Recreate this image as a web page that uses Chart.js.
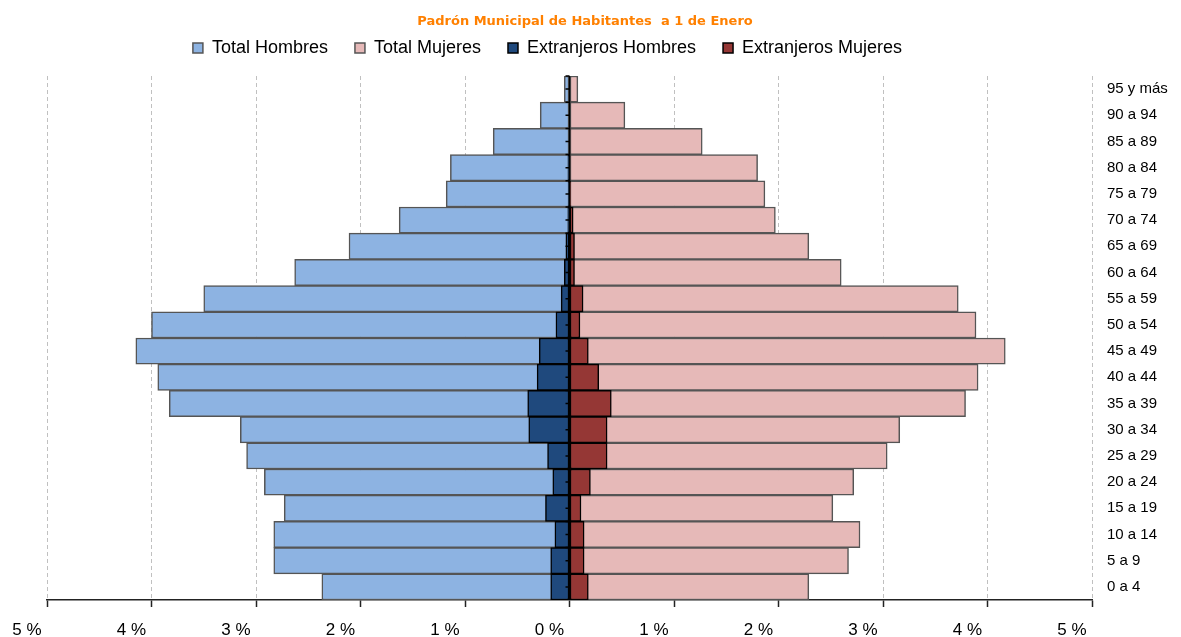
<!DOCTYPE html>
<html>
<head>
<meta charset="utf-8">
<title>Padrón Municipal de Habitantes</title>
<script src="https://cdn.jsdelivr.net/npm/chart.js@4.4.0/dist/chart.umd.min.js"></script>
<style>
   html, body { margin: 0; padding: 0; background: #fff; }
   #wrap { width: 1181px; height: 637px; }
</style>
</head>
<body>
<div id="wrap"><canvas id="myChart" width="1181" height="637"></canvas></div>
<script>
// age groups, bottom to top
const ages = ['0 a 4', '5 a 9', '10 a 14', '15 a 19', '20 a 24', '25 a 29', '30 a 34', '35 a 39', '40 a 44', '45 a 49',
   '50 a 54', '55 a 59', '60 a 64', '65 a 69', '70 a 74', '75 a 79', '80 a 84', '85 a 89', '90 a 94', '95 y más'];

// % of population
const totalHombres = [2.37, 2.83, 2.83, 2.73, 2.92, 3.09, 3.15, 3.83, 3.94, 4.15, 4.00, 3.50, 2.63, 2.11, 1.63, 1.18, 1.14, 0.73, 0.28, 0.05];
const totalMujeres = [2.29, 2.67, 2.78, 2.52, 2.72, 3.04, 3.16, 3.79, 3.91, 4.17, 3.89, 3.72, 2.60, 2.29, 1.97, 1.87, 1.80, 1.27, 0.53, 0.08];
const extranjerosHombres = [0.18, 0.18, 0.14, 0.23, 0.16, 0.21, 0.39, 0.40, 0.31, 0.29, 0.13, 0.08, 0.05, 0.035, 0.016, 0.01, 0.015, 0.005, 0, 0];
const extranjerosMujeres = [0.18, 0.14, 0.14, 0.11, 0.20, 0.36, 0.36, 0.40, 0.28, 0.18, 0.10, 0.13, 0.048, 0.048, 0.035, 0.01, 0.005, 0.005, 0, 0];

const xTicks = [-5, -4, -3, -2, -1, 0, 1, 2, 3, 4, 5];

const COLORS = {
   hombres: '#8db3e2',
   mujeres: '#e6b9b8',
   extHombres: '#1f497d',
   extMujeres: '#953735',
   totalBorder: '#555555',
   extBorder: '#000000',
};

Chart.defaults.font.family = '"Liberation Sans", Arial, sans-serif';
Chart.defaults.color = '#000';

const negate = (arr) => arr.map(v => -v);

const makeDataset = (label, data, color, border, order) => ({
   label: label,
   data: data,
   backgroundColor: color,
   borderColor: border,
   borderWidth: 1.5,
   borderSkipped: false,
   barPercentage: 1,
   categoryPercentage: 1,
   grouped: false,
   order: order,
});

// extra room under legend, and move title/legend like in the original
const legendTweak = {
   id: 'legendTweak',
   beforeInit(chart) {
      const fit = chart.legend.fit;
      chart.legend.fit = function () {
         fit.call(this);
         this.height += 9;
      };
   },
   afterLayout(chart) {
      chart.legend.right -= 133;
      chart.titleBlock.right -= 58;
   }
};

// vertical axis through 0 with small ticks
const zeroAxis = {
   id: 'zeroAxis',
   afterDatasetsDraw(chart) {
      const { ctx, chartArea, scales } = chart;
      const x0 = scales.x.getPixelForValue(0);
      const band = Math.abs(scales.y.getPixelForValue(1) - scales.y.getPixelForValue(0));
      ctx.save();
      ctx.strokeStyle = '#000';
      ctx.lineWidth = 1.5;
      ctx.beginPath();
      ctx.moveTo(x0, chartArea.top);
      ctx.lineTo(x0, chartArea.bottom);
      for (let i = 0; i < ages.length; ++i) {
         const c = scales.y.getPixelForValue(i);
         ctx.moveTo(x0 - 4, c); ctx.lineTo(x0, c);
         ctx.moveTo(x0 - 4, c - band / 2); ctx.lineTo(x0, c - band / 2);
      }
      ctx.stroke();
      ctx.restore();
   }
};

const config = {
   type: 'bar',
   data: {
      labels: ages,
      datasets: [
         makeDataset('Total Hombres', negate(totalHombres), COLORS.hombres, COLORS.totalBorder, 2),
         makeDataset('Total Mujeres', totalMujeres, COLORS.mujeres, COLORS.totalBorder, 2),
         makeDataset('Extranjeros Hombres', negate(extranjerosHombres), COLORS.extHombres, COLORS.extBorder, 1),
         makeDataset('Extranjeros Mujeres', extranjerosMujeres, COLORS.extMujeres, COLORS.extBorder, 1),
      ]
   },
   options: {
      indexAxis: 'y',
      responsive: false,
      animation: false,
      layout: { padding: { left: 47, right: 0, top: 0, bottom: 0 } },
      plugins: {
         title: {
            display: true,
            text: 'Padrón Municipal de Habitantes  a 1 de Enero',
            color: '#ff8000',
            font: { size: 13, weight: 'bold', family: '"DejaVu Sans", sans-serif' },
            padding: { top: 14, bottom: -17.6 },
         },
         legend: {
            display: true,
            labels: {
               boxWidth: 10,
               boxHeight: 10,
               padding: 27,
               color: '#000',
               font: { size: 18 },
               sort: (a, b) => a.datasetIndex - b.datasetIndex,
            }
         },
         tooltip: { enabled: false },
      },
      scales: {
         x: {
            type: 'linear',
            min: -5,
            max: 5,
            afterBuildTicks: (scale) => { scale.ticks = xTicks.map(v => ({ value: v })); },
            afterFit: (scale) => { scale.height = 37; },
            grid: {
               color: (c) => (c.tick && c.tick.value === 0 ? 'rgba(0,0,0,0)' : '#c0c0c0'),
               lineWidth: 1,
               tickColor: '#222',
               tickLength: 7,
               tickWidth: 1.5,
            },
            border: { display: true, color: '#222', width: 1.5, dash: [4, 3] },
            ticks: {
               color: '#000',
               font: { size: 17 },
               padding: 13,
               labelOffset: -20,
               maxRotation: 0,
               callback: (v) => Math.abs(v) + ' %',
            }
         },
         y: {
            type: 'category',
            position: 'right',
            reverse: true,
            afterFit: (scale) => { scale.width = 89; },
            grid: { display: false, drawTicks: false },
            border: { display: false },
            ticks: {
               color: '#000',
               font: { size: 15 },
               padding: 15,
            }
         }
      }
   },
   plugins: [legendTweak, zeroAxis],
};

const ctx = document.getElementById('myChart').getContext('2d');
const myChart = new Chart(ctx, config);
</script>
</body>
</html>
